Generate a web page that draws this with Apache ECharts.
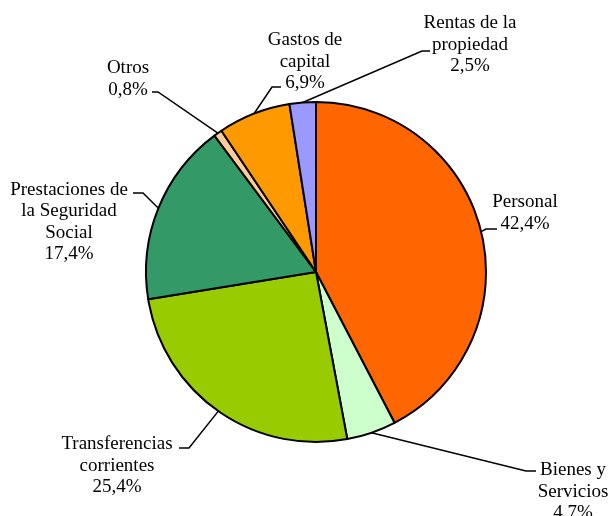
<!DOCTYPE html>
<html>
<head>
<meta charset="utf-8">
<script src="https://cdn.jsdelivr.net/npm/echarts@6/dist/echarts.min.js"></script>
<style>
  html, body { margin: 0; padding: 0; background: #fff; }
  #chart { width: 608px; height: 516px; }
</style>
</head>
<body>
<div id="chart"></div>
<script>
// datos del gráfico (reparto en %)
const categories = [
  'Personal',
  'Bienes y\nServicios',
  'Transferencias\ncorrientes',
  'Prestaciones de\nla Seguridad\nSocial',
  'Otros',
  'Gastos de\ncapital',
  'Rentas de la\npropiedad',
]
const shares = [42.4, 4.7, 25.4, 17.4, 0.8, 6.9, 2.5]
// separador decimal tal como aparece en cada etiqueta del original
const decimalMarks = [',', '.', ',', ',', ',', ',', ',']
const colors = ['#FF6600', '#CCFFCC', '#99CC00', '#339966', '#FFCC99', '#FF9900', '#9999FF']

// colocación de las etiquetas: centro del texto, codo y final de la línea guía
const labelPlaces = [
  { tx: 525, ty: 213, elbow: [486, 229], end: [497, 229] },
  { tx: 573, ty: 492, elbow: [526, 471], end: [536, 471] },
  { tx: 117, ty: 466, elbow: [189, 448], end: [179, 448] },
  { tx: 69, ty: 222, elbow: [143, 193], end: [133, 193] },
  { tx: 128, ty: 79, elbow: [158, 92], end: [152, 92] },
  { tx: 305, ty: 62, elbow: [272, 87], end: [281, 87] },
  { tx: 470, ty: 45, elbow: [422, 51], end: [430, 51] },
]

const myChart = echarts.init(document.getElementById('chart'))
const option = {
  animation: false,
  color: colors,
  series: [
    {
      type: 'pie',
      center: [316, 272],
      radius: 170,
      startAngle: 90,
      clockwise: true,
      silent: true,
      itemStyle: {
        borderColor: '#000',
        borderWidth: 2,
      },
      label: {
        show: true,
        position: 'outside',
        color: '#000',
        fontFamily: '"Liberation Serif", "Times New Roman", serif',
        fontSize: 19,
        lineHeight: 21.5,
        align: 'center',
        overflow: 'none',
        formatter: (p) =>
          p.name + '\n' + p.value.toFixed(1).replace('.', decimalMarks[p.dataIndex]) + '%',
      },
      labelLine: {
        show: true,
        length: 10,
        length2: 10,
        lineStyle: { color: '#000', width: 1.5 },
      },
      labelLayout: (params) => {
        const pl = labelPlaces[params.dataIndex]
        const start = params.labelLinePoints ? params.labelLinePoints[0] : pl.elbow
        return {
          x: pl.tx,
          y: pl.ty,
          align: 'center',
          verticalAlign: 'middle',
          labelLinePoints: [start, pl.elbow, pl.end],
        }
      },
      data: categories.map((name, i) => ({ name: name, value: shares[i] })),
    },
  ],
}

option && myChart.setOption(option)
</script>
</body>
</html>
